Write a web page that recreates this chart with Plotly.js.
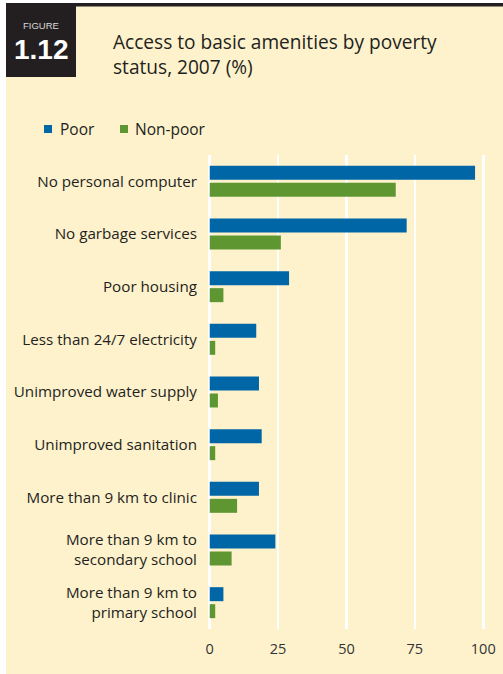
<!DOCTYPE html>
<html>
<head>
<meta charset="utf-8">
<script src="https://cdn.plot.ly/plotly-3.0.1.min.js"></script>
<style>
  html, body { margin: 0; padding: 0; background: #ffffff; }
  #chart { position: absolute; left: 6px; top: 3px; width: 497px; height: 671px; }
</style>
</head>
<body>
<div id="chart"></div>
<script>
// ---- Data ----
const categories = [
  "No personal computer",
  "No garbage services",
  "Poor housing",
  "Less than 24/7 electricity",
  "Unimproved water supply",
  "Unimproved sanitation",
  "More than 9 km to clinic",
  "More than 9 km to<br>secondary school",
  "More than 9 km to<br>primary school"
];
const poorValues    = [97, 72, 29, 17, 18, 19, 18, 24, 5];
const nonPoorValues = [68, 26, 5, 2, 3, 2, 10, 8, 2];
const seriesNames = ["Poor", "Non-poor"];
const xTickVals = [0, 25, 50, 75, 100];
const xTickText = ["0", "25", "50", "75", "100"];

// ---- Styles ----
const CREAM = "#fef2cd";
const BLUE = "#0066a6";
const GREEN = "#5e9732";
const DARK = "#231f20";
const FONT = "Open Sans, sans-serif";

const W = 497, H = 671;
const m = { l: 201, r: 17, t: 152, b: 45 };
const pw = W - m.l - m.r, ph = H - m.t - m.b;
const ox = 6, oy = 3;
function X(px) { return (px - ox - m.l) / pw; }
function Y(py) { return 1 - (py - oy - m.t) / ph; }

const traces = [
  { type: "bar", orientation: "h", name: seriesNames[0], y: categories, x: poorValues,
    marker: { color: BLUE }, showlegend: false, hoverinfo: "x+y" },
  { type: "bar", orientation: "h", name: seriesNames[1], y: categories, x: nonPoorValues,
    marker: { color: GREEN }, showlegend: false, hoverinfo: "x+y" }
];

const layout = {
  width: W, height: H,
  margin: m,
  paper_bgcolor: CREAM,
  plot_bgcolor: CREAM,
  barmode: "group",
  bargap: 0.355,
  bargroupgap: 0.176,
  font: { family: FONT, color: DARK },
  xaxis: {
    range: [-1, 101],
    tickvals: xTickVals, ticktext: xTickText,
    showgrid: true, gridcolor: "#ffffff", gridwidth: 2.5,
    zeroline: true, zerolinecolor: "#ffffff", zerolinewidth: 2.5,
    showline: false,
    ticks: "outside", ticklen: 7, tickcolor: "rgba(0,0,0,0)",
    tickfont: { family: FONT, size: 14.5, color: "#333333" },
    fixedrange: true
  },
  yaxis: {
    autorange: "reversed",
    type: "category",
    showgrid: false, zeroline: false, showline: false,
    ticks: "outside", ticklen: 6, tickcolor: "rgba(0,0,0,0)",
    tickfont: { family: FONT, size: 15.2, color: DARK },
    fixedrange: true
  },
  shapes: [
    { type: "rect", xref: "paper", yref: "paper", x0: X(6), x1: X(503), y0: Y(3), y1: Y(6.5),
      fillcolor: DARK, line: { width: 0 }, layer: "above" },
    { type: "rect", xref: "paper", yref: "paper", x0: X(6), x1: X(76), y0: Y(3), y1: Y(77),
      fillcolor: DARK, line: { width: 0 }, layer: "above" },
    { type: "rect", xref: "paper", yref: "paper", x0: X(44), x1: X(52), y0: Y(125), y1: Y(133),
      fillcolor: BLUE, line: { width: 0 } },
    { type: "rect", xref: "paper", yref: "paper", x0: X(120), x1: X(128), y0: Y(125), y1: Y(133),
      fillcolor: GREEN, line: { width: 0 } }
  ],
  annotations: [
    { xref: "paper", yref: "paper", x: X(41), y: Y(26), text: "FIGURE", showarrow: false,
      xanchor: "center", yanchor: "middle",
      font: { family: "Liberation Sans, Arial, sans-serif", size: 9.5, color: "#d8d8d8" } },
    { xref: "paper", yref: "paper", x: X(41), y: Y(50), text: "<b>1.12</b>", showarrow: false,
      xanchor: "center", yanchor: "middle",
      font: { family: "Liberation Sans, Arial, sans-serif", size: 28, color: "#ffffff" } },
    { xref: "paper", yref: "paper", x: X(111), y: Y(54), showarrow: false,
      text: "Access to basic amenities by poverty<br>status, 2007 (%)",
      xanchor: "left", yanchor: "middle", align: "left",
      font: { family: FONT, size: 19.1, color: DARK } },
    { xref: "paper", yref: "paper", x: X(58), y: Y(129), text: seriesNames[0], showarrow: false,
      xanchor: "left", yanchor: "middle",
      font: { family: FONT, size: 15.5, color: DARK } },
    { xref: "paper", yref: "paper", x: X(133), y: Y(129), text: seriesNames[1], showarrow: false,
      xanchor: "left", yanchor: "middle",
      font: { family: FONT, size: 15.5, color: DARK } }
  ]
};

Plotly.newPlot("chart", traces, layout, { displayModeBar: false, staticPlot: true });
</script>
</body>
</html>
